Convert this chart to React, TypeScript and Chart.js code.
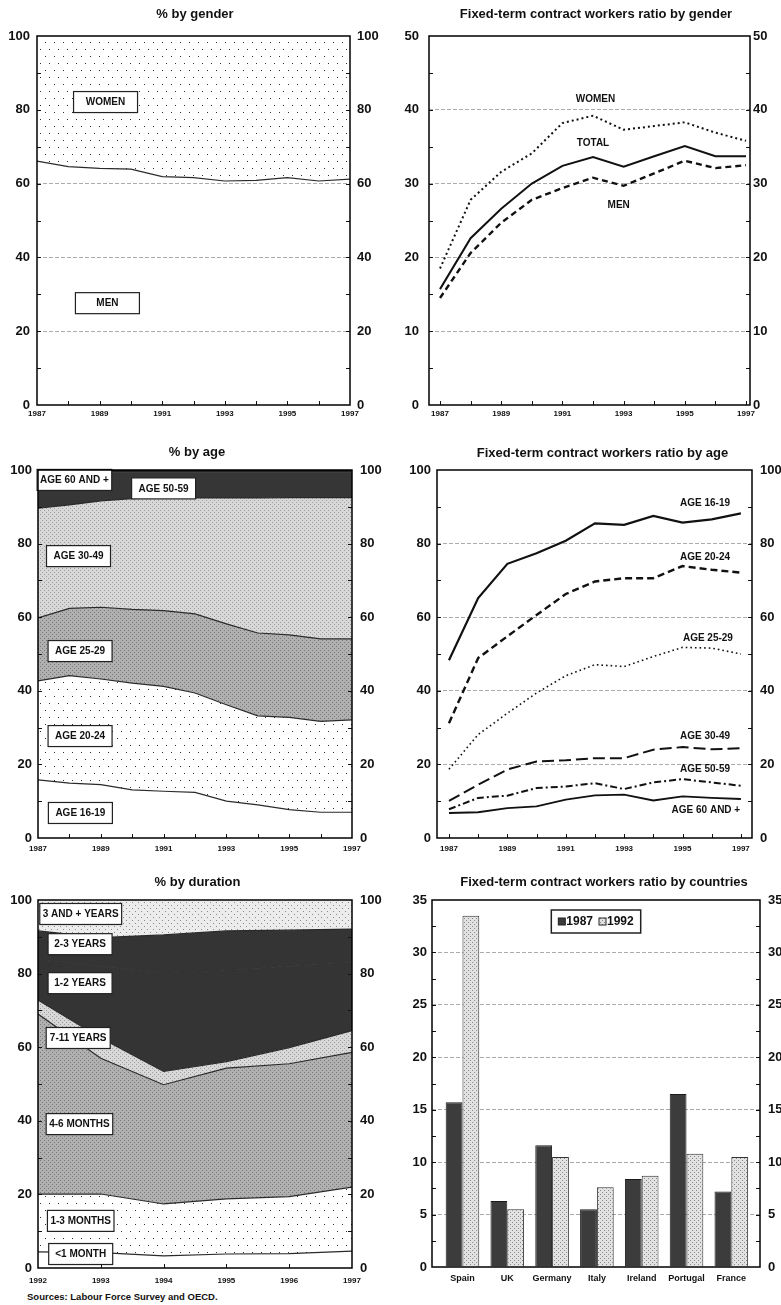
import React, { useEffect, useRef } from 'react';
import { Chart, registerables } from 'chart.js';

Chart.register(...registerables);

const FONT = '"Liberation Sans", Arial, Helvetica, sans-serif';

// ---------------- data ----------------
const YEARS = [1987, 1988, 1989, 1990, 1991, 1992, 1993, 1994, 1995, 1996, 1997];
const YEAR_LABELS = [1987, 1989, 1991, 1993, 1995, 1997];
const DUR_YEARS = [1992, 1993, 1994, 1995, 1996, 1997];

// % by gender (stacked shares)
const SHARE_MEN = [66.1, 64.6, 64.1, 63.9, 61.9, 61.6, 60.7, 60.9, 61.6, 60.7, 61.2];
const SHARE_WOMEN = [33.9, 35.4, 35.9, 36.1, 38.1, 38.4, 39.3, 39.1, 38.4, 39.3, 38.8];

// Fixed-term ratio by gender
const RATIO_WOMEN = [18.5, 27.8, 31.6, 34.1, 38.2, 39.2, 37.3, 37.8, 38.3, 36.9, 35.8];
const RATIO_TOTAL = [15.7, 22.6, 26.6, 30.0, 32.4, 33.6, 32.3, 33.7, 35.1, 33.7, 33.7];
const RATIO_MEN = [14.5, 20.6, 24.7, 27.8, 29.4, 30.8, 29.7, 31.4, 33.1, 32.1, 32.5];

// % by age (stacked shares)
const SHARE_AGE_16_19 = [15.8, 14.9, 14.5, 13.1, 12.7, 12.4, 10.0, 9.0, 7.7, 7.0, 7.0];
const SHARE_AGE_20_24 = [26.9, 29.2, 28.7, 29.0, 28.5, 27.0, 26.2, 24.2, 25.1, 24.7, 25.1];
const SHARE_AGE_25_29 = [17.1, 18.3, 19.5, 20.0, 20.6, 21.5, 22.0, 22.5, 22.4, 22.4, 22.0];
const SHARE_AGE_30_49 = [29.8, 28.1, 28.9, 30.1, 30.6, 31.5, 34.2, 36.7, 37.3, 38.4, 38.4];
const SHARE_AGE_50_59 = [9.8, 8.9, 7.8, 7.2, 7.0, 7.0, 7.0, 7.0, 6.9, 6.9, 6.9];
const SHARE_AGE_60_PLUS = [0.6, 0.6, 0.6, 0.6, 0.6, 0.6, 0.6, 0.6, 0.6, 0.6, 0.6];

// Fixed-term ratio by age
const RATIO_AGE_16_19 = [48.3, 65.2, 74.5, 77.4, 80.8, 85.5, 85.1, 87.5, 85.7, 86.6, 88.2];
const RATIO_AGE_20_24 = [31.2, 48.9, 54.8, 60.6, 66.3, 69.7, 70.6, 70.6, 73.9, 72.9, 72.1];
const RATIO_AGE_25_29 = [18.7, 28.1, 33.9, 39.4, 44.1, 47.1, 46.6, 49.3, 51.8, 51.6, 50.0];
const RATIO_AGE_30_49 = [10.1, 14.5, 18.6, 20.8, 21.1, 21.7, 21.7, 24.0, 24.7, 24.1, 24.4];
const RATIO_AGE_50_59 = [7.8, 10.9, 11.5, 13.6, 14.0, 14.9, 13.3, 15.1, 16.0, 15.1, 14.2];
const RATIO_AGE_60_PLUS = [6.8, 7.0, 8.1, 8.6, 10.4, 11.6, 11.8, 10.2, 11.3, 10.9, 10.6];

// % by duration (stacked shares)
const DUR_LT_1M = [4.4, 4.2, 3.3, 3.8, 3.9, 4.6];
const DUR_1_3M = [15.7, 15.9, 14.1, 15.0, 15.5, 17.4];
const DUR_4_6M = [48.9, 36.9, 32.4, 35.5, 36.1, 36.6];
const DUR_7_11 = [3.8, 5.5, 3.6, 1.8, 4.4, 5.9];
const DUR_1_2Y = [11.2, 19.5, 26.6, 24.9, 22.1, 18.5];
const DUR_2_3Y = [7.6, 7.8, 10.5, 10.6, 9.8, 9.1];
const DUR_3PLUS = [8.4, 10.2, 9.5, 8.4, 8.2, 7.9];

// Ratio by countries
const COUNTRIES = ['Spain', 'UK', 'Germany', 'Italy', 'Ireland', 'Portugal', 'France'];
const RATIO_1987 = [15.7, 6.3, 11.6, 5.5, 8.4, 16.5, 7.2];
const RATIO_1992 = [33.5, 5.5, 10.5, 7.6, 8.7, 10.8, 10.5];
const COUNTRY_SERIES = ['1987', '1992'];

// ticks
const PCT_TICKS = [0, 10, 20, 30, 40, 50, 60, 70, 80, 90, 100];
const PCT_LABELS = [0, 20, 40, 60, 80, 100];
const PCT_GRID = [20, 40, 60, 80];
const R50_TICKS = [0, 5, 10, 15, 20, 25, 30, 35, 40, 45, 50];
const R50_LABELS = [0, 10, 20, 30, 40, 50];
const R50_GRID = [10, 20, 30, 40];
const R35_TICKS = [0, 2.5, 5, 7.5, 10, 12.5, 15, 17.5, 20, 22.5, 25, 27.5, 30, 32.5, 35];
const R35_LABELS = [0, 5, 10, 15, 20, 25, 30, 35];
const R35_GRID = [5, 10, 15, 20, 25, 30];

// ---------------- helpers ----------------
function pts(xs: number[], ys: number[]) {
  return xs.map((x, i) => ({ x, y: ys[i] }));
}

function dotPattern(bg: string, dot: string, w: number, h: number, p: [number, number][], size = 1) {
  const c = document.createElement('canvas');
  c.width = w;
  c.height = h;
  const g = c.getContext('2d')!;
  if (bg) {
    g.fillStyle = bg;
    g.fillRect(0, 0, w, h);
  }
  g.fillStyle = dot;
  for (const [x, y] of p) g.fillRect(x, y, size, size);
  return g.createPattern(c, 'repeat')!;
}

function makePatterns() {
  return {
    sparse: dotPattern('#ffffff', '#2e2e2e', 18, 14, [[0, 0], [9, 0], [4, 7], [13, 7]]),
    light: dotPattern('#d8d8d8', '#9c9c9c', 4, 4, [[0, 0], [2, 2]]),
    medium: dotPattern('#b0b0b0', '#7a7a7a', 4, 4, [[0, 0], [2, 2]]),
    veryLight: dotPattern('#ececec', '#8a8a8a', 6, 6, [[0, 0], [3, 3]]),
    bar: dotPattern('#e2e2e2', '#8a8a8a', 4, 4, [[0, 0], [2, 2]]),
  };
}

type Label = { text: string; x: number; y: number; box?: boolean };
type Decor = {
  title: string;
  titleDx: number;
  titleDy: number;
  labels: Label[];
  boxMinW?: number;
  xTicks?: boolean;
  legend?: boolean;
};

function makeDecor(cfg: Decor) {
  return {
    id: 'decor',
    afterDatasetsDraw(chart: any) {
      const { ctx } = chart;
      const xs = chart.scales.x;
      const ys = chart.scales.y;
      ctx.save();
      ctx.font = `bold 10px ${FONT}`;
      ctx.textBaseline = 'middle';
      ctx.textAlign = 'center';
      for (const l of cfg.labels) {
        const px = xs.getPixelForValue(l.x);
        const py = ys.getPixelForValue(l.y);
        if (l.box) {
          const tw = ctx.measureText(l.text).width;
          const w = Math.max(cfg.boxMinW ?? 0, tw + 6);
          const h = 21;
          ctx.fillStyle = '#ffffff';
          ctx.fillRect(px - w / 2, py - h / 2, w, h);
          ctx.strokeStyle = '#222';
          ctx.lineWidth = 1.2;
          ctx.strokeRect(px - w / 2, py - h / 2, w, h);
        }
        ctx.fillStyle = '#111';
        ctx.fillText(l.text, px, py + 0.5);
      }
      if (cfg.legend) {
        const ds = chart.data.datasets;
        ctx.font = `bold 12px ${FONT}`;
        const sq = 7, gapIn = 1, gapOut = 6, pad = 7, h = 23;
        const widths = ds.map((d: any) => ctx.measureText(d.label).width);
        let total = pad * 2 + gapOut * (ds.length - 1);
        ds.forEach((_: any, i: number) => (total += sq + gapIn + widths[i]));
        const a = chart.chartArea;
        const cx = (a.left + a.right) / 2;
        const top = a.top + 10;
        let x = cx - total / 2;
        ctx.fillStyle = '#fff';
        ctx.fillRect(x, top, total, h);
        ctx.strokeStyle = '#222';
        ctx.lineWidth = 1.5;
        ctx.strokeRect(x, top, total, h);
        x += pad;
        ctx.textAlign = 'left';
        ds.forEach((d: any, i: number) => {
          ctx.fillStyle = d.backgroundColor;
          ctx.fillRect(x, top + h / 2 - sq / 2, sq, sq);
          ctx.lineWidth = 1;
          ctx.strokeRect(x, top + h / 2 - sq / 2, sq, sq);
          x += sq + gapIn;
          ctx.fillStyle = '#111';
          ctx.fillText(d.label, x, top + h / 2 + 0.5);
          x += widths[i] + gapOut;
        });
      }
      ctx.restore();
    },
    afterDraw(chart: any) {
      const { ctx } = chart;
      const a = chart.chartArea;
      const ys = chart.scales.y;
      const xs = chart.scales.x;
      const len = 4;
      ctx.save();
      ctx.strokeStyle = '#111';
      ctx.lineWidth = 1;
      ctx.beginPath();
      for (const t of ys.ticks) {
        const py = Math.round(ys.getPixelForValue(t.value)) + 0.5;
        if (py <= a.top + 1 || py >= a.bottom - 1) continue;
        ctx.moveTo(a.left, py);
        ctx.lineTo(a.left + len, py);
        ctx.moveTo(a.right, py);
        ctx.lineTo(a.right - len, py);
      }
      if (cfg.xTicks) {
        for (const t of xs.ticks) {
          const px = Math.round(xs.getPixelForValue(t.value)) + 0.5;
          if (px <= a.left + 1 || px >= a.right - 1) continue;
          ctx.moveTo(px, a.bottom);
          ctx.lineTo(px, a.bottom - len);
        }
      }
      ctx.stroke();
      ctx.lineWidth = 1.5;
      ctx.strokeStyle = '#000';
      ctx.strokeRect(a.left, a.top, a.right - a.left, a.bottom - a.top);
      ctx.fillStyle = '#111';
      ctx.font = `bold 13px ${FONT}`;
      ctx.textAlign = 'center';
      ctx.textBaseline = 'middle';
      ctx.fillText(cfg.title, (a.left + a.right) / 2 + cfg.titleDx, a.top - cfg.titleDy);
      ctx.restore();
    },
  };
}

function yAxis(position: 'left' | 'right', ticks: number[], labels: number[], grid: number[], width: number, pad: number, stacked = false) {
  return {
    type: 'linear',
    position,
    stacked,
    min: ticks[0],
    max: ticks[ticks.length - 1],
    afterBuildTicks: (s: any) => {
      s.ticks = ticks.map((v) => ({ value: v }));
    },
    afterFit: (s: any) => {
      s.width = width;
    },
    ticks: {
      autoSkip: false,
      padding: pad,
      color: '#111',
      font: { family: FONT, size: 13, weight: 'bold' },
      callback: (v: any) => (labels.includes(Number(v)) ? String(v) : ''),
    },
    grid: {
      display: position === 'left',
      drawTicks: false,
      lineWidth: 1,
      color: (c: any) => (c.tick && grid.includes(c.tick.value) ? '#ababab' : 'rgba(0,0,0,0)'),
    },
    border: { display: false, dash: [4, 2] },
  };
}

function xAxis(min: number, max: number, ticks: number[], labelFn: (v: number) => string, height: number, pad: number, size: number) {
  return {
    type: 'linear',
    min,
    max,
    offset: false,
    afterBuildTicks: (s: any) => {
      s.ticks = ticks.map((v) => ({ value: v }));
    },
    afterFit: (s: any) => {
      s.height = height;
    },
    grid: { display: false, drawTicks: false, offset: false },
    border: { display: false },
    ticks: {
      autoSkip: false,
      maxRotation: 0,
      minRotation: 0,
      padding: pad,
      color: '#111',
      font: { family: FONT, size, weight: 'bold' },
      callback: (v: any) => labelFn(Number(v)),
    },
  };
}

const yearLabel = (v: number) => (YEAR_LABELS.includes(v) ? String(v) : '');

function baseOptions(padTop: number, scales: any) {
  return {
    responsive: false,
    animation: false,
    devicePixelRatio: 1,
    events: [],
    layout: { padding: { top: padTop, left: 0, right: 0, bottom: 0 } },
    plugins: { legend: { display: false }, tooltip: { enabled: false }, title: { display: false } },
    elements: { point: { radius: 0 }, line: { tension: 0 } },
    scales,
  };
}

function area(label: string, xs: number[], ys: number[], fill: any, bg: any, border: string | null = '#2a2a2a') {
  return {
    label,
    data: pts(xs, ys),
    fill,
    backgroundColor: bg,
    borderColor: border ?? 'rgba(0,0,0,0)',
    borderWidth: border ? 1.2 : 0,
    pointRadius: 0,
  };
}

function line(label: string, ys: number[], dash: number[], width: number) {
  return {
    label,
    data: pts(YEARS, ys),
    fill: false,
    borderColor: '#111',
    borderWidth: width,
    borderDash: dash,
    borderCapStyle: 'butt',
    pointRadius: 0,
  };
}

// ---------------- panel configs ----------------
function cfgGenderShare(P: any) {
  return {
    type: 'line',
    data: {
      datasets: [
        area('MEN', YEARS, SHARE_MEN, 'origin', 'rgba(0,0,0,0)'),
        area('WOMEN', YEARS, SHARE_WOMEN, '-1', P.sparse, null),
      ],
    },
    options: baseOptions(36, {
      x: xAxis(1987, 1997, YEARS, yearLabel, 20, 4, 8),
      y: yAxis('left', PCT_TICKS, PCT_LABELS, PCT_GRID, 37, 7, true),
      y2: yAxis('right', PCT_TICKS, PCT_LABELS, PCT_GRID, 40, 7),
    }),
    plugins: [
      makeDecor({
        title: '% by gender', titleDx: 1.5, titleDy: 22, xTicks: true, boxMinW: 64,
        labels: [
          { text: 'WOMEN', x: 1989.19, y: 82.1, box: true },
          { text: 'MEN', x: 1989.25, y: 27.6, box: true },
        ],
      }),
    ],
  };
}

function cfgGenderRatio() {
  return {
    type: 'line',
    data: {
      datasets: [
        line('WOMEN', RATIO_WOMEN, [2, 3], 2),
        line('TOTAL', RATIO_TOTAL, [], 2),
        line('MEN', RATIO_MEN, [6, 4], 2.4),
      ],
    },
    options: baseOptions(36, {
      x: xAxis(1986.64, 1997.13, YEARS, yearLabel, 20, 4, 8),
      y: yAxis('left', R50_TICKS, R50_LABELS, R50_GRID, 39, 10),
      y2: yAxis('right', R50_TICKS, R50_LABELS, R50_GRID, 31, 3),
    }),
    plugins: [
      makeDecor({
        title: 'Fixed-term contract workers ratio by gender', titleDx: 6.5, titleDy: 22, xTicks: true,
        labels: [
          { text: 'WOMEN', x: 1992.08, y: 41.5 },
          { text: 'TOTAL', x: 1992.0, y: 35.6 },
          { text: 'MEN', x: 1992.84, y: 27.2 },
        ],
      }),
    ],
  };
}

function cfgAgeShare(P: any) {
  return {
    type: 'line',
    data: {
      datasets: [
        area('AGE 16-19', YEARS, SHARE_AGE_16_19, 'origin', 'rgba(0,0,0,0)'),
        area('AGE 20-24', YEARS, SHARE_AGE_20_24, '-1', P.sparse),
        area('AGE 25-29', YEARS, SHARE_AGE_25_29, '-1', P.medium),
        area('AGE 30-49', YEARS, SHARE_AGE_30_49, '-1', P.light),
        area('AGE 50-59', YEARS, SHARE_AGE_50_59, '-1', '#363636', '#363636'),
        area('AGE 60 AND +', YEARS, SHARE_AGE_60_PLUS, '-1', '#111111', null),
      ],
    },
    options: baseOptions(40, {
      x: xAxis(1987, 1997, YEARS, yearLabel, 22, 6, 8),
      y: yAxis('left', PCT_TICKS, PCT_LABELS, PCT_GRID, 38, 6, true),
      y2: yAxis('right', PCT_TICKS, PCT_LABELS, PCT_GRID, 38, 8),
    }),
    plugins: [
      makeDecor({
        title: '% by age', titleDx: 2, titleDy: 18, xTicks: true, boxMinW: 64,
        labels: [
          { text: 'AGE 60 AND +', x: 1988.16, y: 97.3, box: true },
          { text: 'AGE 50-59', x: 1991.0, y: 95.0, box: true },
          { text: 'AGE 30-49', x: 1988.29, y: 76.6, box: true },
          { text: 'AGE 25-29', x: 1988.34, y: 50.8, box: true },
          { text: 'AGE 20-24', x: 1988.34, y: 27.7, box: true },
          { text: 'AGE 16-19', x: 1988.35, y: 6.8, box: true },
        ],
      }),
    ],
  };
}

function cfgAgeRatio() {
  return {
    type: 'line',
    data: {
      datasets: [
        line('AGE 16-19', RATIO_AGE_16_19, [], 2.2),
        line('AGE 20-24', RATIO_AGE_20_24, [7, 4], 2.4),
        line('AGE 25-29', RATIO_AGE_25_29, [1.6, 3], 1.6),
        line('AGE 30-49', RATIO_AGE_30_49, [12, 5], 2),
        line('AGE 50-59', RATIO_AGE_50_59, [7, 3, 2, 3], 2),
        line('AGE 60 AND +', RATIO_AGE_60_PLUS, [], 1.8),
      ],
    },
    options: baseOptions(40, {
      x: xAxis(1986.59, 1997.38, YEARS, yearLabel, 22, 6, 8),
      y: yAxis('left', PCT_TICKS, PCT_LABELS, PCT_GRID, 47, 6),
      y2: yAxis('right', PCT_TICKS, PCT_LABELS, PCT_GRID, 29, 8),
    }),
    plugins: [
      makeDecor({
        title: 'Fixed-term contract workers ratio by age', titleDx: 8, titleDy: 17, xTicks: true,
        labels: [
          { text: 'AGE 16-19', x: 1995.77, y: 91.0 },
          { text: 'AGE 20-24', x: 1995.77, y: 76.4 },
          { text: 'AGE 25-29', x: 1995.87, y: 54.3 },
          { text: 'AGE 30-49', x: 1995.77, y: 27.7 },
          { text: 'AGE 50-59', x: 1995.77, y: 18.7 },
          { text: 'AGE 60 AND +', x: 1995.8, y: 7.6 },
        ],
      }),
    ],
  };
}

function cfgDuration(P: any) {
  return {
    type: 'line',
    data: {
      datasets: [
        area('<1 MONTH', DUR_YEARS, DUR_LT_1M, 'origin', 'rgba(0,0,0,0)'),
        area('1-3 MONTHS', DUR_YEARS, DUR_1_3M, '-1', P.sparse),
        area('4-6 MONTHS', DUR_YEARS, DUR_4_6M, '-1', P.medium),
        area('7-11 YEARS', DUR_YEARS, DUR_7_11, '-1', P.light),
        area('1-2 YEARS', DUR_YEARS, DUR_1_2Y, '-1', '#343434', '#343434'),
        area('2-3 YEARS', DUR_YEARS, DUR_2_3Y, '-1', '#343434'),
        area('3 AND + YEARS', DUR_YEARS, DUR_3PLUS, '-1', P.veryLight, null),
      ],
    },
    options: baseOptions(40, {
      x: xAxis(1992, 1997, DUR_YEARS, (v) => String(v), 22, 8, 8),
      y: yAxis('left', PCT_TICKS, PCT_LABELS, PCT_GRID, 38, 6, true),
      y2: yAxis('right', PCT_TICKS, PCT_LABELS, PCT_GRID, 38, 8),
    }),
    plugins: [
      makeDecor({
        title: '% by duration', titleDx: 2.5, titleDy: 18, xTicks: true, boxMinW: 64,
        labels: [
          { text: '3 AND + YEARS', x: 1992.68, y: 96.2, box: true },
          { text: '2-3 YEARS', x: 1992.67, y: 88.0, box: true },
          { text: '1-2 YEARS', x: 1992.67, y: 77.4, box: true },
          { text: '7-11 YEARS', x: 1992.64, y: 62.5, box: true },
          { text: '4-6 MONTHS', x: 1992.66, y: 39.1, box: true },
          { text: '1-3 MONTHS', x: 1992.68, y: 12.8, box: true },
          { text: '<1 MONTH', x: 1992.68, y: 3.8, box: true },
        ],
      }),
    ],
  };
}

function cfgCountries(P: any) {
  const idx = COUNTRIES.map((_, i) => i);
  return {
    type: 'bar',
    data: {
      datasets: [
        {
          label: COUNTRY_SERIES[0],
          data: pts(idx, RATIO_1987),
          backgroundColor: '#3c3c3c',
          borderColor: '#1a1a1a',
          borderWidth: 1,
          categoryPercentage: 0.75,
          barPercentage: 1,
        },
        {
          label: COUNTRY_SERIES[1],
          data: pts(idx, RATIO_1992),
          backgroundColor: P.bar,
          borderColor: '#333',
          borderWidth: 1,
          categoryPercentage: 0.75,
          barPercentage: 1,
        },
      ],
    },
    options: baseOptions(40, {
      x: xAxis(-0.68, 6.64, idx, (v) => (Number.isInteger(v) ? COUNTRIES[v] ?? '' : ''), 23, 6, 9),
      y: yAxis('left', R35_TICKS, R35_LABELS, R35_GRID, 42, 5),
      y2: yAxis('right', R35_TICKS, R35_LABELS, R35_GRID, 21, 8),
    }),
    plugins: [
      makeDecor({
        title: 'Fixed-term contract workers ratio by countries', titleDx: 8, titleDy: 18, legend: true,
        labels: [],
      }),
    ],
  };
}

// ---------------- components ----------------
type PanelProps = { left: number; top: number; width: number; height: number; make: (P: any) => any };

function Panel({ left, top, width, height, make }: PanelProps) {
  const ref = useRef<HTMLCanvasElement>(null);
  useEffect(() => {
    const P = makePatterns();
    const chart = new Chart(ref.current as HTMLCanvasElement, make(P));
    return () => chart.destroy();
  }, []);
  return (
    <canvas
      ref={ref}
      width={width}
      height={height}
      style={{ position: 'absolute', left, top, width, height, display: 'block' }}
    />
  );
}

export default function App() {
  return (
    <div
      style={{
        position: 'absolute',
        left: 0,
        top: 0,
        width: 781,
        height: 1305,
        background: '#ffffff',
        overflow: 'hidden',
      }}
    >
      <Panel left={0} top={0} width={390} height={425} make={cfgGenderShare} />
      <Panel left={390} top={0} width={391} height={425} make={() => cfgGenderRatio()} />
      <Panel left={0} top={430} width={390} height={430} make={cfgAgeShare} />
      <Panel left={390} top={430} width={391} height={430} make={() => cfgAgeRatio()} />
      <Panel left={0} top={860} width={390} height={430} make={cfgDuration} />
      <Panel left={390} top={860} width={391} height={430} make={cfgCountries} />
      <div
        style={{
          position: 'absolute',
          left: 27,
          top: 1291,
          font: `bold 9.5px ${FONT}`,
          color: '#111',
          whiteSpace: 'nowrap',
        }}
      >
        Sources: Labour Force Survey and OECD.
      </div>
    </div>
  );
}
